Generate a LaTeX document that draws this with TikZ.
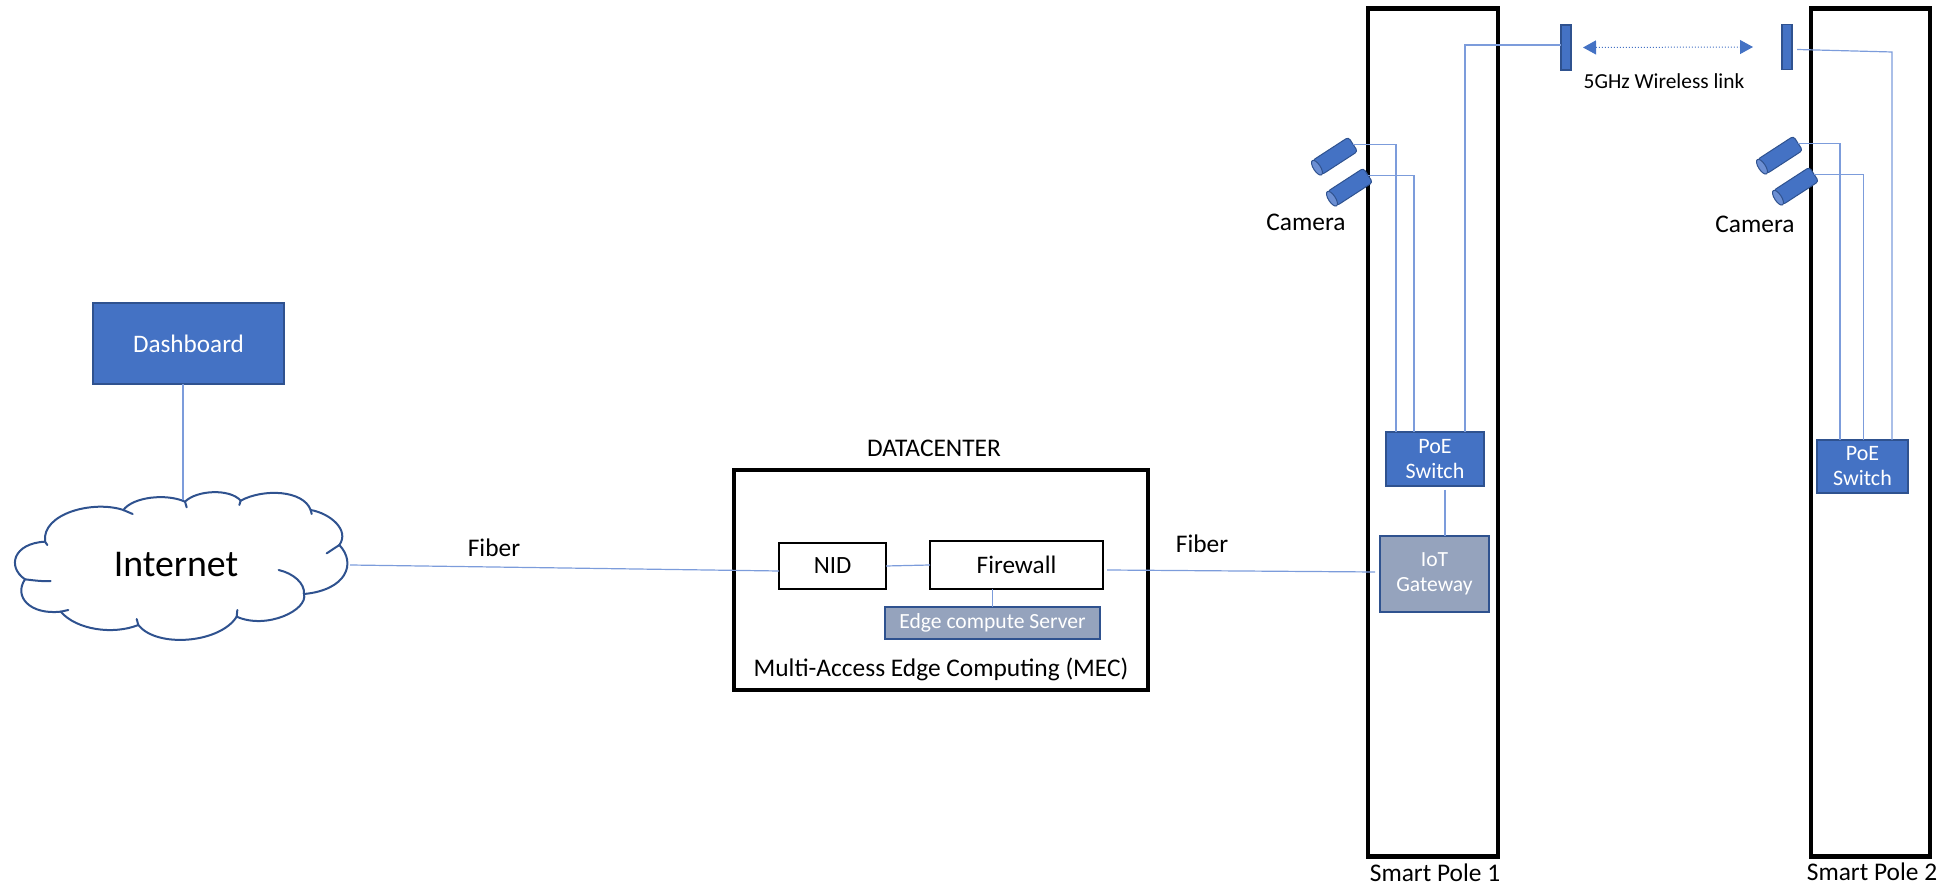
\documentclass[tikz,border=0pt]{standalone}
\usepackage{fontspec}
\setmainfont{Carlito}
\usetikzlibrary{arrows.meta,shapes.geometric}
\definecolor{boxblue}{HTML}{4472C4}
\definecolor{edgeblue}{HTML}{2F528F}
\definecolor{wireblue}{HTML}{7C9CDB}
\definecolor{graybox}{HTML}{95A3BD}
\definecolor{camend}{HTML}{6C8FD3}
\tikzset{
  x=0.5pt,y=-0.5pt,
  base/.style={inner sep=0pt,outer sep=0pt,align=center},
  polebox/.style={base,draw=black,line width=2.2pt,minimum height=424pt},
  frame/.style={base,draw=black,line width=2pt},
  plainbox/.style={base,draw=black,fill=white,line width=0.6pt,font=\fontsize{12.4}{14}\selectfont},
  fwbox/.style={base,draw=black,fill=white,line width=1.4pt,font=\fontsize{12.6}{14}\selectfont},
  bluebox/.style={base,draw=edgeblue,fill=boxblue,line width=0.8pt,text=white,font=\fontsize{11}{12.5}\selectfont},
  graynode/.style={base,draw=edgeblue,fill=graybox,line width=0.9pt,text=white,font=\fontsize{10.8}{12.6}\selectfont},
  antenna/.style={base,draw=edgeblue,fill=boxblue,line width=0.7pt,minimum width=5pt,minimum height=22.5pt},
  cambody/.style={base,draw=edgeblue,fill=boxblue,line width=0.5pt,rounded corners=1.5pt,minimum width=21.5pt,minimum height=8.5pt,rotate=33},
  camcap/.style={ellipse,inner sep=0pt,outer sep=0pt,draw=edgeblue,fill=camend,line width=0.5pt,minimum width=3.5pt,minimum height=8.5pt,rotate=33},
  wire/.style={draw=wireblue,line width=0.6pt},
  label/.style={base,font=\fontsize{12.7}{15}\selectfont},
  cloudline/.style={draw=edgeblue,line width=1pt,line cap=round}
}
\newcommand{\cameranode}[2]{%
  \node[cambody] (#1) at (#2) {};
  \node[camcap] at (#1.west) {};
}
\begin{document}
\begin{tikzpicture}
\useasboundingbox (0,0) rectangle (1944,886);
% frames
\node[polebox,minimum width=65pt] (pole1) at (1433,432.5) {};
\node[polebox,minimum width=59.5pt] (pole2) at (1870.5,432.5) {};
\node[frame,minimum width=207pt,minimum height=110pt] (dc) at (941,580) {};
% datacenter content
\node[plainbox,minimum width=53.5pt,minimum height=23pt] (nid) at (832.5,566) {NID};
\node[fwbox,minimum width=86.5pt,minimum height=24pt] (fw) at (1016.5,565) {Firewall};
\node[graynode,minimum width=107.5pt,minimum height=16pt] (edge) at (992.5,623) {Edge compute Server};
% pole content
\node[bluebox,minimum width=49pt,minimum height=27pt] (poe1) at (1435,459) {PoE\\Switch};
\node[graynode,minimum width=54.5pt,minimum height=38pt] (iot) at (1434.5,574) {IoT\\Gateway};
\node[bluebox,minimum width=45.5pt,minimum height=26.5pt] (poe2) at (1862.5,466.5) {PoE\\Switch};
\node[antenna] (a1) at (1566,47.5) {};
\node[antenna] (a2) at (1787,47) {};
% dashboard
\node[bluebox,font=\fontsize{12.6}{14}\selectfont,minimum width=95.5pt,minimum height=40.5pt] (dash) at (188.5,343.5) {Dashboard};
% cloud
\coordinate (cloudn) at (183,500);
\coordinate (cloude) at (350,565);
\begin{scope}[shift={(0,280)},x=0.16667pt,y=-0.16667pt]
\path[cloudline,fill=white] (135,785)
  .. controls (125,700) and (280,660) .. (370,690)
  .. controls (400,650) and (500,640) .. (555,665)
  .. controls (590,630) and (690,625) .. (722,662)
  .. controls (790,625) and (910,630) .. (932,690)
  .. controls (990,700) and (1050,750) .. (1018,795)
  .. controls (1070,850) and (1040,930) .. (912,942)
  .. controls (925,990) and (800,1050) .. (710,1010)
  .. controls (660,1090) and (470,1105) .. (415,1035)
  .. controls (340,1065) and (230,1050) .. (182,995)
  .. controls (90,1005) and (40,950) .. (75,898)
  .. controls (20,860) and (40,790) .. (135,785) -- cycle;
\path[cloudline] (370,690) -- (398,702);
\path[cloudline] (555,665) -- (560,682);
\path[cloudline] (722,662) -- (718,675);
\path[cloudline] (932,690) -- (935,702);
\path[cloudline] (1018,795) -- (980,820);
\path[cloudline] (836,870) .. controls (880,880) and (915,910) .. (912,942);
\path[cloudline] (710,1010) -- (712,990);
\path[cloudline] (415,1035) -- (410,1017);
\path[cloudline] (182,995) -- (205,990);
\path[cloudline] (75,898) .. controls (95,900) and (125,905) .. (152,903);
\path[cloudline] (135,785) -- (142,795);
\end{scope}
\node[base,font=\fontsize{18.9}{22}\selectfont] (inet) at (176,565) {Internet};
% cameras
\cameranode{c1a}{1335,156}
\cameranode{c1b}{1350,187}
\cameranode{c2a}{1780,155}
\cameranode{c2b}{1796,186}
% connectors
\draw[wire] (dash.south -| cloudn) -- (cloudn);
\draw[wire] (cloude) -- (nid.west |- 0,571);
\draw[wire] (nid.east) -- (fw.west);
\draw[wire] (edge.north |- fw.south) -- (edge.north);
\draw[wire] ([shift={(2pt,-2.5pt)}]fw.east) -- ([shift={(-2.5pt,1pt)}]iot.west);
\draw[wire] ([shift={(5pt,-2pt)}]poe1.south) -- ([xshift=5.25pt]iot.north);
\draw[wire] (c1a.east) -| ([xshift=-19.5pt]poe1.north);
\draw[wire] (c1b.east) -| ([xshift=-10.5pt]poe1.north);
\draw[wire] ([yshift=1.25pt]a1.west) -| ([xshift=15pt]poe1.north);
\draw[wire] (c2a.east) -| ([xshift=-11.25pt]poe2.north);
\draw[wire] (c2b.east) -| ([xshift=0.5pt]poe2.north);
\coordinate (a2corner) at (1892,52);
\draw[wire] ([shift={(2.5pt,-1.25pt)}]a2.east) -- (a2corner) -- ([xshift=14.75pt]poe2.north);
\draw[draw=boxblue,line width=0.5pt,densely dotted,{Triangle[width=7pt,length=6.5pt,fill=boxblue]}-{Triangle[width=7pt,length=6.5pt,fill=boxblue]}] ([xshift=6pt]a1.east) -- ([xshift=-14.5pt]a2.west);
% labels
\node[base,font=\fontsize{10.7}{12}\selectfont] (wl) at (1664,81) {5GHz Wireless link};
\node[label] (dctitle) at (934,448) {DATACENTER};
\node[label] (mec) at (941,669) {Multi-Access Edge Computing (MEC)};
\node[label] (f1) at (494,548) {Fiber};
\node[label] (f2) at (1202,544) {Fiber};
\node[label] (cam1) at (1306,222) {Camera};
\node[label] (cam2) at (1755,224) {Camera};
\node[label] (sp1) at (1435,873) {Smart Pole 1};
\node[label] (sp2) at (1872,872) {Smart Pole 2};
\end{tikzpicture}
\end{document}
